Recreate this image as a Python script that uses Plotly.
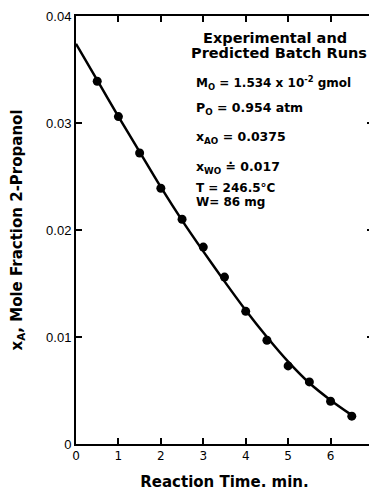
import plotly.graph_objects as go

# Experimental batch run data
time_exp = [0.5, 1.0, 1.5, 2.0, 2.5, 3.0, 3.5, 4.0, 4.5, 5.0, 5.5, 6.0, 6.5]
xa_exp = [0.0339, 0.0306, 0.0272, 0.0239, 0.0210, 0.0184, 0.0156, 0.0124,
          0.0097, 0.0073, 0.0058, 0.0040, 0.0026]

# Predicted curve
time_pred = [0.0, 0.5, 1.0, 1.5, 2.0, 2.5, 3.0, 3.5, 4.0, 4.5, 5.0, 5.5, 6.0, 6.5]
xa_pred = [0.0374, 0.0340, 0.0306, 0.0273, 0.0240, 0.0209, 0.0180, 0.0152,
           0.0125, 0.0100, 0.0077, 0.0057, 0.0041, 0.0027]

x_ticks = [0, 1, 2, 3, 4, 5, 6, 7]
y_ticks = [0, 0.01, 0.02, 0.03, 0.04]
y_tick_text = ["0", "0.01", "0.02", "0.03", "0.04"]

FONT = "Liberation Sans, Arial, sans-serif"
BFONT = "DejaVu Sans, sans-serif"

fig = go.Figure()
fig.add_trace(go.Scatter(
    x=time_pred, y=xa_pred, mode="lines",
    line=dict(color="black", width=2.5, shape="spline", smoothing=0.8),
    showlegend=False, hoverinfo="skip"))
fig.add_trace(go.Scatter(
    x=time_exp, y=xa_exp, mode="markers",
    marker=dict(color="black", size=9),
    showlegend=False))

annots = []
annots.append(dict(x=4.69, y=0.03797, text="<b>Experimental and</b>", xanchor="center", size=14.5))
annots.append(dict(x=4.78, y=0.03657, text="<b>Predicted Batch Runs</b>", xanchor="center", size=14.5))
annots.append(dict(x=2.79, y=0.03377, text="<b>M<sub>O</sub> = 1.534 x 10<sup>-2</sup> gmol</b>", xanchor="left", size=12))
annots.append(dict(x=2.79, y=0.03131, text="<b>P<sub>O</sub> = 0.954 atm</b>", xanchor="left", size=12.5))
annots.append(dict(x=2.79, y=0.0286, text="<b>x<sub>AO</sub> = 0.0375</b>", xanchor="left", size=12.5))
annots.append(dict(x=2.79, y=0.0258, text="<b>x<sub>WO</sub> ≐ 0.017</b>", xanchor="left", size=12.5))
annots.append(dict(x=2.79, y=0.02395, text="<b>T = 246.5°C</b>", xanchor="left", size=12))
annots.append(dict(x=2.79, y=0.02265, text="<b>W= 86 mg</b>", xanchor="left", size=12))
for a in annots:
    s = a.pop("size")
    a.update(xref="x", yref="y", yanchor="middle", showarrow=False,
             font=dict(family=BFONT, size=s, color="black"))

# page body has an 8px default margin; size/margins compensate for it
fig.update_layout(
    width=369, height=484,
    margin=dict(l=68, r=3.5, t=7.5, b=48, autoexpand=False),
    paper_bgcolor="white", plot_bgcolor="white",
    annotations=annots,
    font=dict(family=FONT, color="black"),
)
fig.update_xaxes(
    range=[0, 7], tickvals=x_ticks, ticks="inside", ticklen=6, tickwidth=1.5,
    tickcolor="black", showline=True, linecolor="black", linewidth=2,
    mirror="ticks", showgrid=False, zeroline=False, automargin=False,
    ticklabeloverflow="allow",
    tickfont=dict(family=BFONT, size=12, color="black"),
    title=dict(text="<b>Reaction Time. min.</b>", font=dict(family=BFONT, size=15), standoff=14),
)
fig.update_yaxes(
    range=[0, 0.04], tickvals=y_ticks, ticktext=y_tick_text, ticks="inside",
    ticklen=6, tickwidth=1.5, tickcolor="black", showline=True,
    linecolor="black", linewidth=2, mirror="ticks", showgrid=False,
    zeroline=False, automargin=False,
    tickfont=dict(family=FONT, size=13, color="black"),
    title=dict(text="<b>x<sub>A</sub>, Mole Fraction 2-Propanol</b>",
               font=dict(family=BFONT, size=15), standoff=21),
)

fig.write_html("out.html")
